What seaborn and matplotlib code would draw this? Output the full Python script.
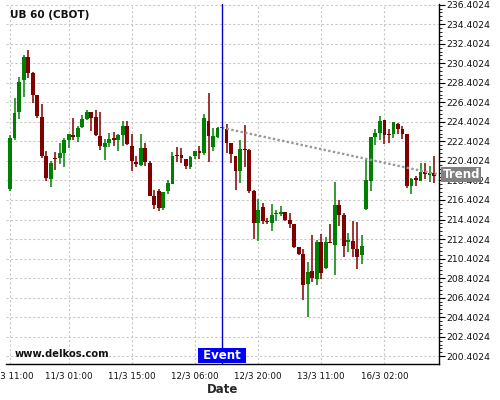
import numpy as np
import matplotlib
matplotlib.use("Agg")
import matplotlib.pyplot as plt
import seaborn as sns

# ---------------- data ----------------
opens = [217.55, 222.78, 225.44, 228.65, 231.03, 229.43, 227.11, 224.89, 220.86, 218.58,
         220.70, 220.66, 221.17, 222.54, 223.01, 222.90, 223.87, 224.69, 225.38, 224.86,
         222.99, 221.83, 222.24, 222.71, 222.54, 223.02, 224.01, 221.96, 220.26, 219.95,
         221.72, 220.20, 216.84, 217.35, 215.60, 217.32, 218.07, 221.01, 221.00, 220.60,
         219.81, 220.94, 221.42, 221.25, 224.49, 221.86, 222.88, 223.80, 223.65, 222.22,
         220.92, 219.38, 221.60, 221.50, 217.34, 214.02, 215.70, 214.26, 214.09, 215.00,
         214.95, 215.18, 214.37, 213.92, 211.55, 210.92, 207.75, 209.13, 208.35, 212.10,
         209.44, 212.10, 211.84, 215.91, 214.82, 212.15, 212.25, 211.40, 210.79, 215.50,
         218.36, 222.90, 223.27, 224.57, 223.13, 223.14, 224.23, 223.65, 223.20, 217.87,
         218.60, 218.38, 219.24, 219.00, 219.14]
highs = [223.10, 226.87, 228.99, 231.24, 231.72, 229.50, 227.20, 226.26, 221.41, 220.39,
         221.34, 222.26, 222.78, 223.20, 224.75, 223.97, 225.10, 225.65, 225.40, 225.65,
         225.38, 222.65, 223.26, 223.40, 223.20, 224.45, 224.45, 223.19, 220.90, 223.19,
         222.24, 220.36, 217.39, 217.50, 217.23, 218.45, 221.35, 221.86, 221.70, 220.60,
         220.90, 221.42, 221.96, 225.17, 227.32, 223.81, 223.90, 223.90, 224.16, 222.22,
         220.92, 222.56, 224.06, 221.60, 217.44, 216.55, 216.07, 214.60, 215.97, 215.40,
         215.80, 215.20, 215.12, 213.95, 211.60, 211.36, 210.02, 212.82, 212.30, 212.88,
         212.65, 213.90, 218.20, 216.42, 215.03, 213.00, 214.30, 214.20, 212.80, 220.60,
         222.90, 223.65, 225.01, 224.57, 223.65, 224.40, 224.30, 223.99, 223.20, 218.70,
         218.90, 220.20, 220.20, 219.85, 220.95]
lows = [217.30, 222.50, 224.65, 226.97, 228.92, 226.32, 224.77, 220.73, 218.34, 217.76,
        219.47, 220.11, 219.81, 221.75, 222.50, 222.36, 223.80, 224.56, 223.46, 223.00,
        221.55, 220.53, 221.83, 221.90, 221.42, 221.90, 222.00, 219.39, 219.80, 219.85,
        219.85, 216.78, 215.50, 215.30, 215.40, 216.98, 218.00, 220.26, 220.20, 219.54,
        219.54, 220.60, 220.60, 220.99, 220.26, 221.42, 222.70, 223.75, 221.26, 220.24,
        217.44, 218.19, 219.83, 217.10, 212.45, 212.22, 213.92, 213.90, 213.20, 214.30,
        214.78, 214.26, 213.49, 211.50, 210.75, 206.15, 204.45, 208.00, 207.70, 208.28,
        209.33, 211.95, 208.70, 213.69, 210.60, 211.05, 210.60, 209.33, 209.85, 215.40,
        217.34, 222.01, 222.52, 222.11, 222.28, 222.73, 223.14, 222.63, 217.61, 217.02,
        217.87, 218.32, 218.56, 218.22, 218.11]
closes = [222.70, 225.30, 228.48, 231.03, 229.43, 227.11, 225.03, 220.93, 218.61, 220.18,
          220.62, 221.17, 222.54, 223.12, 222.84, 223.76, 224.70, 225.38, 224.80, 223.06,
          221.96, 222.20, 222.65, 222.54, 223.02, 224.01, 222.13, 220.36, 220.10, 221.72,
          220.26, 216.84, 215.89, 215.55, 217.19, 218.11, 220.90, 220.87, 220.73, 219.92,
          220.84, 221.42, 221.20, 224.80, 222.99, 222.95, 223.81, 223.82, 222.28, 221.09,
          219.38, 221.60, 221.50, 217.34, 214.02, 215.39, 214.26, 214.16, 214.88, 215.10,
          215.18, 214.37, 213.92, 211.55, 210.92, 207.70, 208.99, 208.45, 212.10, 208.90,
          212.10, 211.97, 215.90, 214.82, 211.73, 212.25, 211.40, 210.61, 211.72, 218.50,
          222.90, 223.27, 224.50, 223.03, 223.03, 224.40, 223.65, 223.14, 217.85, 218.56,
          218.50, 219.23, 219.07, 219.14, 218.83]

tick_idx = [0, 13, 27, 41, 55, 69, 83]
tick_labels = ["10/3 11:00", "11/3 01:00", "11/3 15:00", "12/3 06:00",
               "12/3 20:00", "13/3 11:00", "16/3 02:00"]
y_ticks = [200.4024 + 2 * k for k in range(19)]

event_idx = 47
trend_start = 223.80
trend_end = 219.00

title = "UB 60 (CBOT)"
watermark = "www.delkos.com"

# ---------------- style ----------------
sns.set_style("white")
plt.rcParams['font.family'] = ['DejaVu Sans']

fig = plt.figure(figsize=(5, 4), dpi=100)
ax = fig.add_axes([6 / 500, 36 / 400, 433 / 500, 360 / 400])

x = np.arange(len(opens))
o = np.array(opens); c = np.array(closes)
h = np.array(highs); l = np.array(lows)
up_col, dn_col = "#008000", "#800000"
cols = [up_col if cc >= oo else dn_col for oo, cc in zip(o, c)]

xmin, xmax = -0.9, 95.1
ax.set_xlim(xmin, xmax)
ax.set_ylim(199.61, 236.47)

# grid
ax.set_xticks(tick_idx)
ax.set_xticklabels(tick_labels, fontsize=6.3)
minor_x = []
allmaj = tick_idx + [tick_idx[-1] + 14]
for a, b in zip(allmaj[:-1], allmaj[1:]):
    for k in range(1, 4):
        minor_x.append(a + (b - a) * k / 4)
ax.set_xticks(minor_x, minor=True)

ax.yaxis.tick_right()
ax.set_yticks(y_ticks)
ax.set_yticklabels(["%.4f" % v for v in y_ticks], fontsize=6.7)
minor_y = [v + 0.4 * k for v in y_ticks for k in range(1, 5) if v + 0.4 * k < 236.47]
ax.set_yticks(minor_y, minor=True)

ax.grid(True, which='major', linestyle=(0, (2, 2)), color='#c8c8c8', lw=0.8)
ax.set_axisbelow(True)

for s in ['left', 'top']:
    ax.spines[s].set_visible(False)
for s in ['right', 'bottom']:
    ax.spines[s].set_color('black')
    ax.spines[s].set_linewidth(1.0)

ax.tick_params(axis='both', which='major', length=4, width=0.8, color='black',
               labelcolor='#111111', pad=1.5, direction='out')
ax.tick_params(axis='both', which='minor', length=2, width=0.6, color='black', direction='out')
ax.tick_params(axis='y', which='both', left=False, right=True)

# candles
ax.vlines(x, l, h, colors=cols, lw=1.1, zorder=3)
heights = np.maximum(np.abs(c - o), 0.12)
bottoms = np.minimum(o, c)
ax.bar(x, heights, bottom=bottoms, width=0.85, color=cols, linewidth=0, zorder=4)

# trend line
ax.plot([event_idx, xmax], [trend_start, trend_end], color='#999999', lw=1.7,
        linestyle=(0, (1, 1)), zorder=5, clip_on=False)

# event line
ax.axvline(event_idx, color='#0000cc', lw=1.0, zorder=6)

ax.annotate(" Event ", xy=(event_idx, 0), xycoords=('data', 'axes fraction'),
            xytext=(0, 1.6), textcoords='offset points', ha='center', va='bottom',
            color='white', fontweight='bold', fontsize=8.5, zorder=7,
            bbox=dict(boxstyle='square,pad=0.08', fc='#0000ff', ec='none'))

ax.annotate("Trend", xy=(1.0, trend_end), xycoords=('axes fraction', 'data'),
            xytext=(2.5, 0), textcoords='offset points', ha='left', va='center',
            color='white', fontweight='bold', fontsize=8.5, zorder=7,
            bbox=dict(boxstyle='square,pad=0.1', fc='#808080', ec='none'),
            annotation_clip=False)

ax.set_xlabel("Date", fontsize=8.5, fontweight='bold', labelpad=2)

fig.text(10 / 500, 1 - 15 / 400, title, fontsize=7.5, fontweight='bold',
         ha='left', va='center', color='#111111')
fig.text(15 / 500, 1 - 354 / 400, watermark, fontsize=7.2, fontweight='bold',
         ha='left', va='center', color='#111111')

fig.savefig("out.png", dpi=100)
